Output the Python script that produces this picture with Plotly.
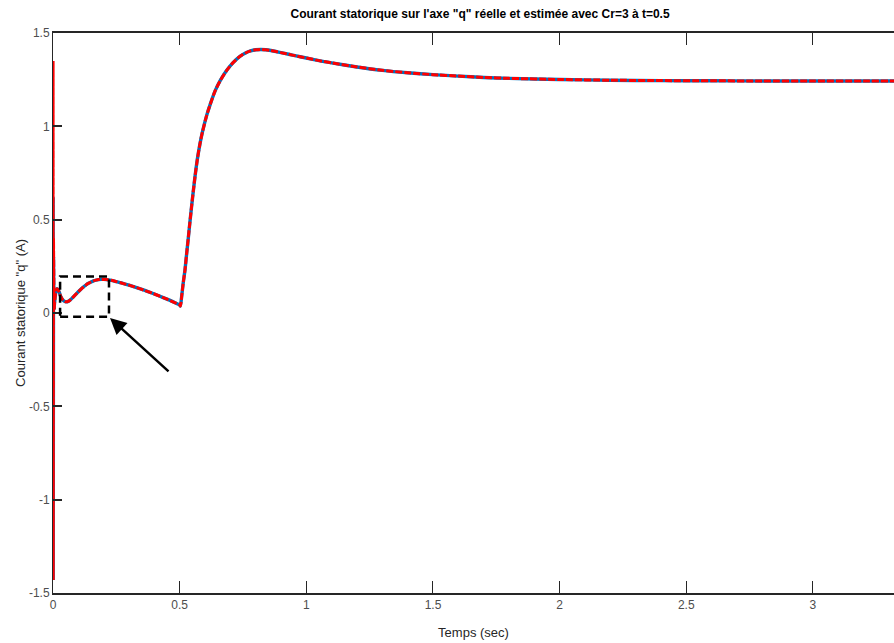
import plotly.graph_objects as go

# ---- data ----
time_s = [0, 0.0004, 0.0008, 0.0012, 0.0016, 0.002, 0.004, 0.008, 0.012, 0.016,
          0.02, 0.025, 0.03, 0.04, 0.05, 0.06, 0.07, 0.08, 0.09, 0.10,
          0.11, 0.12, 0.13, 0.14, 0.15, 0.16, 0.17, 0.18, 0.19, 0.20,
          0.21, 0.23, 0.25, 0.27, 0.30, 0.33, 0.36, 0.39, 0.42, 0.45,
          0.48, 0.50, 0.503, 0.508, 0.514, 0.521, 0.527, 0.534, 0.54, 0.547,
          0.554, 0.561, 0.57, 0.58, 0.59, 0.607, 0.62, 0.64, 0.66, 0.686,
          0.71, 0.738, 0.76, 0.78, 0.80, 0.82, 0.84, 0.86, 0.88, 0.90,
          0.93, 0.96, 1.0, 1.05, 1.1, 1.2, 1.3, 1.4, 1.5, 1.6,
          1.7, 1.8, 2.0, 2.2, 2.4, 2.6, 2.8, 3.0, 3.2, 3.35]

iq_common = [0.02, 0.08, 0.12, 0.13,
             0.125, 0.11, 0.09, 0.068, 0.06, 0.062, 0.072, 0.086, 0.10, 0.114,
             0.127, 0.139, 0.15, 0.159, 0.166, 0.172, 0.176, 0.179, 0.18, 0.18,
             0.179, 0.175, 0.168, 0.161, 0.149, 0.136, 0.122, 0.107, 0.091, 0.074,
             0.056, 0.043, 0.037, 0.09, 0.16, 0.23, 0.31, 0.40, 0.48, 0.57,
             0.655, 0.735, 0.825, 0.905, 0.97, 1.06, 1.115, 1.19, 1.245, 1.30,
             1.34, 1.375, 1.393, 1.404, 1.41, 1.412, 1.41, 1.406, 1.401, 1.395,
             1.386, 1.377, 1.366, 1.352, 1.34, 1.318, 1.3, 1.287, 1.277, 1.269,
             1.262, 1.257, 1.251, 1.247, 1.245, 1.244, 1.243, 1.243, 1.243, 1.243]

iq_real = [0, 0.62, -1.43, 0.5, -0.4, 0.3] + iq_common
iq_est = [0, 1.35, -1.43, 0.9, -0.6, 0.4] + iq_common

x_ticks = [0, 0.5, 1, 1.5, 2, 2.5, 3]
x_tick_labels = ["0", "0.5", "1", "1.5", "2", "2.5", "3"]
y_ticks = [-1.5, -1, -0.5, 0, 0.5, 1, 1.5]
y_tick_labels = ["-1.5", "-1", "-0.5", "0", "0.5", "1", "1.5"]

zoom_box = dict(x0=0.028, x1=0.221, y0=-0.02, y1=0.195)
arrow_head = (0.225, -0.027)
arrow_tail = (0.462, -0.32)

FONT = "Liberation Sans Narrow, Arial Narrow, Liberation Sans, Arial, sans-serif"
SPIKE = 7  # first samples: start-up transient drawn with straight segments

fig = go.Figure()
for values, style in [(iq_real, dict(color="#0072BD", width=3.4)),
                      (iq_est, dict(color="#FF0000", width=3.0, dash="7px,2px"))]:
    fig.add_trace(go.Scatter(x=time_s[:SPIKE], y=values[:SPIKE], mode="lines",
                             line=style, showlegend=False, hoverinfo="skip"))
    fig.add_trace(go.Scatter(x=time_s[SPIKE - 1:], y=values[SPIKE - 1:], mode="lines",
                             line=dict(style, shape="spline", smoothing=0.6),
                             showlegend=False, hoverinfo="skip"))

fig.add_shape(type="rect", xref="x", yref="y", **zoom_box,
              line=dict(color="black", width=2.5, dash="8px,5px"))
fig.add_annotation(x=arrow_head[0], y=arrow_head[1], ax=arrow_tail[0], ay=arrow_tail[1],
                   xref="x", yref="y", axref="x", ayref="y", text="",
                   showarrow=True, arrowhead=2, arrowsize=1.3, arrowwidth=2.5,
                   arrowcolor="black")

fig.update_layout(
    width=894, height=643,
    margin=dict(l=53, r=0, t=33, b=50),
    paper_bgcolor="white", plot_bgcolor="white",
    font=dict(family=FONT, size=12, color="#262626"),
    title=dict(text="<b>Courant statorique sur l'axe \"q\" réelle et estimée avec Cr=3 à t=0.5</b>",
               xref="container", yref="container", x=0.537, y=1 - 14 / 643,
               xanchor="center", yanchor="middle",
               font=dict(family=FONT, size=12, color="black")),
    showlegend=False,
)
fig.update_xaxes(range=[0, 3.32], tickmode="array", tickvals=x_ticks, ticktext=x_tick_labels,
                 ticks="inside", ticklen=12, tickwidth=1, tickcolor="#262626",
                 showline=True, linecolor="#262626", linewidth=2, mirror="ticks",
                 showgrid=False, zeroline=False,
                 tickfont=dict(size=12, color="#4d4d4d"),
                 title=dict(text="Temps (sec)", standoff=16,
                            font=dict(size=13, color="#262626")))
fig.update_yaxes(range=[-1.5, 1.5], tickmode="array", tickvals=y_ticks, ticktext=y_tick_labels,
                 ticks="inside", ticklen=9, tickwidth=2, tickcolor="#262626",
                 showline=True, linecolor="#262626", linewidth=1, mirror=False,
                 showgrid=False, zeroline=False,
                 tickfont=dict(size=12, color="#4d4d4d"),
                 title=dict(text="Courant statorique \"q\" (A)", standoff=0,
                            font=dict(size=13, color="#262626")))

fig.write_html("out.html", config={"displayModeBar": False},
               post_script="document.body.style.margin='0px';")
